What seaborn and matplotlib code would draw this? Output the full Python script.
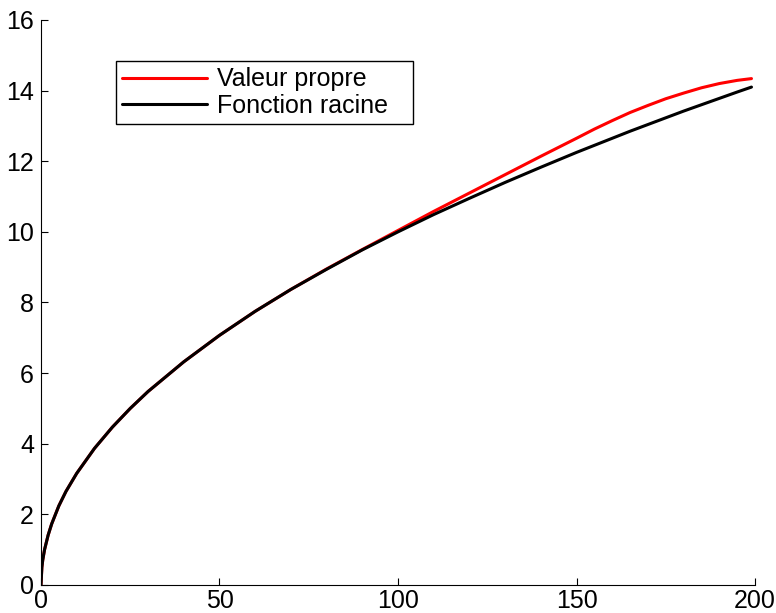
import pandas as pd
import seaborn as sns
import matplotlib.pyplot as plt

# values
x_vals = [0, 0.25, 0.5, 1, 2, 3, 5, 7, 10, 15, 20, 25, 30, 40, 50, 60, 70,
          80, 90, 100, 110, 120, 130, 140, 150, 155, 160, 165, 170, 175, 180,
          185, 190, 195, 199]
racine = [0, 0.5, 0.71, 1.0, 1.41, 1.73, 2.24, 2.65, 3.16, 3.87, 4.47, 5.0,
          5.48, 6.32, 7.07, 7.75, 8.37, 8.94, 9.49, 10.0, 10.49, 10.95, 11.40,
          11.83, 12.25, 12.45, 12.65, 12.85, 13.04, 13.23, 13.42, 13.60, 13.78,
          13.96, 14.1]
valeur_propre = [0, 0.5, 0.71, 1.0, 1.41, 1.73, 2.24, 2.65, 3.16, 3.87, 4.47,
                 5.0, 5.48, 6.32, 7.07, 7.75, 8.37, 8.95, 9.50, 10.04, 10.58,
                 11.10, 11.62, 12.14, 12.65, 12.91, 13.15, 13.38, 13.58, 13.77,
                 13.93, 14.08, 14.20, 14.29, 14.34]

df = pd.DataFrame({"x": x_vals, "Valeur propre": valeur_propre,
                   "Fonction racine": racine})

sns.set_style("ticks")
plt.rcParams['font.family'] = ['Liberation Sans', 'DejaVu Sans']
plt.rcParams['text.color'] = 'black'
plt.rcParams['xtick.color'] = 'black'
plt.rcParams['ytick.color'] = 'black'

fig = plt.figure(figsize=(7.76, 6.13), dpi=100)
ax = fig.add_axes([0.0528, 0.0457, 0.9202, 0.9217])

sns.lineplot(data=df, x="x", y="Valeur propre", color="red", linewidth=2.2,
             label="Valeur propre", ax=ax)
sns.lineplot(data=df, x="x", y="Fonction racine", color="black", linewidth=2.2,
             label="Fonction racine", ax=ax)

ax.set_xlim(0, 200)
ax.set_ylim(0, 16)
ax.set_xticks([0, 50, 100, 150, 200])
ax.set_yticks(range(0, 17, 2))
ax.set_xlabel("")
ax.set_ylabel("")
ax.tick_params(direction="in", length=5, width=0.8, labelsize=18)
ax.tick_params(axis="x", pad=3)
ax.tick_params(axis="y", pad=5)
for side in ["top", "right"]:
    ax.spines[side].set_visible(False)
for side in ["left", "bottom"]:
    ax.spines[side].set_linewidth(0.8)
    ax.spines[side].set_color("black")

# legend box stretched to the reference width
leg = ax.legend(loc="upper left", bbox_to_anchor=(0.1046, 0.827, 0.4164, 0.1),
                mode="expand", fontsize=18,
                frameon=True, fancybox=False, framealpha=1, edgecolor="black",
                handlelength=3.4, handletextpad=0.4, borderpad=0.25,
                labelspacing=0.1, borderaxespad=0)
leg.get_frame().set_linewidth(1.0)

fig.savefig("out.png", dpi=100)
